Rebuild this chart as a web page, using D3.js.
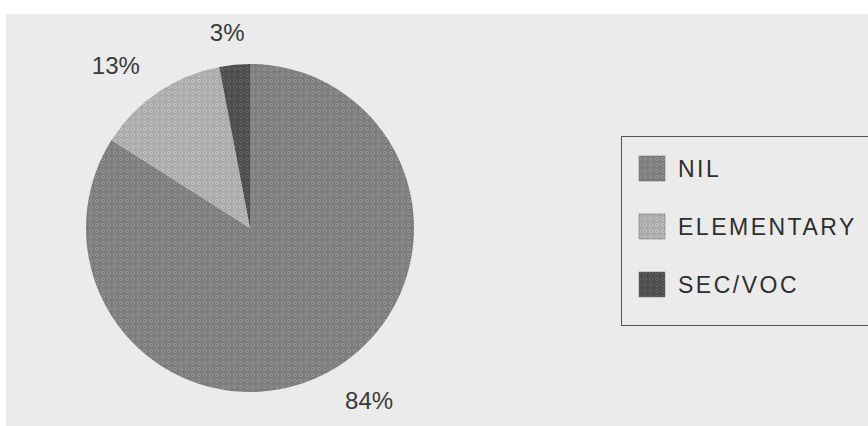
<!DOCTYPE html>
<html>
<head>
<meta charset="utf-8">
<script src="https://cdn.jsdelivr.net/npm/d3@7"></script>
<style>
html,body{margin:0;padding:0;background:#fff;}
svg{display:block;}
</style>
</head>
<body>
<svg id="chart" width="868" height="426"></svg>
<script>
const categories = ["NIL", "ELEMENTARY", "SEC/VOC"];
const values = [84, 13, 3];
const labels = ["84%", "13%", "3%"];

const baseColors = ["#7b7b7b", "#a9a9a9", "#4b4b4b"];
const dotColors = ["#9a9a9a", "#c9c9c9", "#6a6a6a"];

const svg = d3.select("#chart");
const W = 868, H = 426;

// patterns
const defs = svg.append("defs");
categories.forEach((c, i) => {
  const p = defs.append("pattern")
    .attr("id", "pat" + i)
    .attr("patternUnits", "userSpaceOnUse")
    .attr("width", 6).attr("height", 6);
  p.append("rect").attr("width", 6).attr("height", 6).attr("fill", baseColors[i]);
  p.append("circle").attr("cx", 3).attr("cy", 3).attr("r", 1.6)
    .attr("fill", "none").attr("stroke", dotColors[i]).attr("stroke-width", 0.8);
  p.append("rect").attr("x", 0).attr("y", 0).attr("width", 1).attr("height", 1).attr("fill", dotColors[i]).attr("opacity", 0.6);
});

// background panel
svg.append("rect").attr("x", 6).attr("y", 14).attr("width", W - 6).attr("height", H - 14)
  .attr("fill", "#ebebeb");

const cx = 250, cy = 228, R = 164;
const pie = d3.pie().sort(null).value(d => d)(values);
const arc = d3.arc().innerRadius(0).outerRadius(R);

const g = svg.append("g").attr("transform", `translate(${cx},${cy})`);
g.selectAll("path").data(pie).join("path")
  .attr("d", arc)
  .attr("fill", (d, i) => `url(#pat${i})`)
  .attr("stroke", "none");

// labels
const fontSize = 24;
const labelR = 187;
pie.forEach((d, i) => {
  const a = (d.startAngle + d.endAngle) / 2;
  const s = Math.sin(a), c = -Math.cos(a);
  const px = cx + s * labelR, py = cy + c * labelR;
  const t = svg.append("text")
    .attr("font-family", "'Liberation Sans', Arial, sans-serif")
    .attr("font-size", fontSize)
    .attr("fill", "#3a3a3a")
    .text(labels[i]);
  const w = t.node().getComputedTextLength();
  const k = Math.max(-1, Math.min(1, s * 2.5));
  const centerX = px + k * (w / 2 + 5);
  const centerY = py + c * 10;
  t.attr("x", centerX).attr("y", centerY + fontSize * 0.36).attr("text-anchor", "middle");
});

// legend
const legend = svg.append("g");
legend.append("rect").attr("x", 621.5).attr("y", 136.5).attr("width", 260).attr("height", 189)
  .attr("fill", "none").attr("stroke", "#555").attr("stroke-width", 1);
const ly = d3.scalePoint().domain(categories).range([168, 284]);
categories.forEach((c, i) => {
  legend.append("rect").attr("x", 639).attr("y", ly(c) - 12).attr("width", 26).attr("height", 25)
    .attr("fill", `url(#pat${i})`).attr("stroke", "#666").attr("stroke-width", 0.5);
  legend.append("text").attr("x", 678).attr("y", ly(c) + 9)
    .attr("font-family", "'Liberation Sans', Arial, sans-serif")
    .attr("font-size", 23)
    .attr("letter-spacing", 2.5)
    .attr("fill", "#2e2e2e")
    .text(c);
});
</script>
</body>
</html>
